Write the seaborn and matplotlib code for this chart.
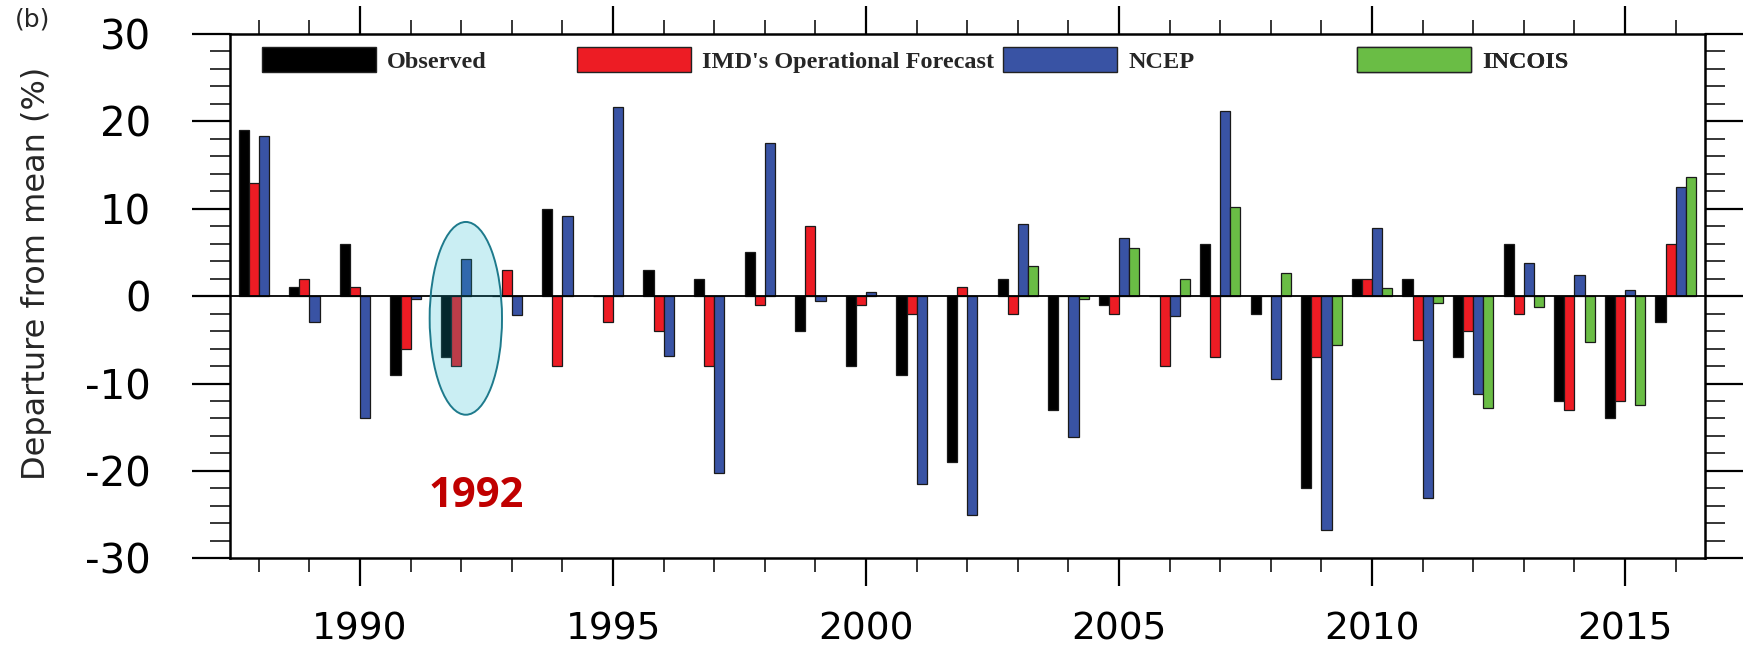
import numpy as np
import pandas as pd
import matplotlib
matplotlib.use("Agg")
import matplotlib.pyplot as plt
from matplotlib.patches import Ellipse, Patch
from matplotlib.ticker import MultipleLocator, FixedLocator
import seaborn as sns

# ---- data: departure of monsoon rainfall from the long-term mean (%) ----
years = list(range(1988, 2017))
observed = [19, 1, 6, -9, -7, 0, 10, 0, 3, 2, 5, -4, -8, -9, -19,
            2, -13, -1, 0, 6, -2, -22, 2, 2, -7, 6, -12, -14, -3]
imd_forecast = [13, 2, 1, -6, -8, 3, -8, -3, -4, -8, -1, 8, -1, -2, 1,
                -2, 0, -2, -8, -7, 0, -7, 2, -5, -4, -2, -13, -12, 6]
ncep = [18.3, -3, -14, -0.3, 4.2, -2.2, 9.2, 21.6, -6.9, -20.2, 17.5, -0.5, 0.5, -21.5, -25,
        8.3, -16.1, 6.7, -2.3, 21.2, -9.5, -26.8, 7.8, -23.1, -11.2, 3.8, 2.4, 0.7, 12.5]
incois = [np.nan] * 15 + [3.4, -0.3, 5.5, 2.0, 10.2, 2.7, -5.6, 0.9, -0.8, -12.8,
                          -1.2, -5.3, -12.5, 13.6]

series_names = ["Observed", "IMD's Operational Forecast", "NCEP", "INCOIS"]
series_colors = ["#000000", "#ED1C24", "#3953A4", "#6ABD45"]
major_years = [1990, 1995, 2000, 2005, 2010, 2015]
y_ticks = [-30, -20, -10, 0, 10, 20, 30]
highlight_year = 1992

# long-form table for seaborn
frames = []
for name, vals in zip(series_names, [observed, imd_forecast, ncep, incois]):
    frames.append(pd.DataFrame({"year": years, "value": vals, "source": name}))
df = pd.concat(frames, ignore_index=True).dropna()

sns.set_style("ticks")
plt.rcParams["font.family"] = ["DejaVu Sans"]

fig = plt.figure(figsize=(17.48, 6.45), dpi=100)
ax = fig.add_axes([0.1316, 0.1344, 0.8438, 0.8129])

sns.barplot(data=df, x="year", y="value", hue="source", hue_order=series_names,
            palette=dict(zip(series_names, series_colors)), native_scale=True,
            width=0.8, dodge=True, errorbar=None, saturation=1,
            edgecolor="#1a1a1a", linewidth=0.9, legend=False, ax=ax, zorder=3)

ax.axhline(0, color="black", lw=1.3, zorder=4)

# axes limits and ticks
ax.set_xlim(1987.43, 2016.58)
ax.set_ylim(-30, 30)
ax.xaxis.set_major_locator(FixedLocator(major_years))
ax.xaxis.set_minor_locator(FixedLocator(years))
ax.set_xticklabels([str(y) for y in major_years])
ax.yaxis.set_major_locator(FixedLocator(y_ticks))
ax.yaxis.set_minor_locator(MultipleLocator(2))
ax.set_yticklabels([str(v) for v in y_ticks])

ax.tick_params(axis="x", which="major", direction="out", length=20, width=1.6,
               top=True, bottom=True, labelsize=27, pad=18.5, colors="black")
ax.tick_params(axis="x", which="minor", direction="out", length=10, width=1.3,
               top=True, bottom=True)
ax.tick_params(axis="y", which="major", direction="out", length=27.5, width=1.6,
               left=True, right=True, labelsize=29, pad=29.5, colors="black")
ax.tick_params(axis="y", which="minor", direction="out", length=14.5, width=1.3,
               left=True, right=True)

for sp in ax.spines.values():
    sp.set_visible(True)
    sp.set_linewidth(1.8)
    sp.set_color("black")

ax.set_xlabel("")
ax.set_ylabel("Departure from mean (%)", fontsize=23, va="center")
ax.yaxis.set_label_coords(-0.1315, 0.544)

# legend: one entry per slot across the top of the panel
legend_x = [0.0217, 0.2353, 0.524, 0.764]
for name, color, lx in zip(series_names, series_colors, legend_x):
    handle = Patch(facecolor=color, edgecolor="#222222", linewidth=1.0)
    leg = ax.legend(handles=[handle], labels=[name], loc="center left",
                    bbox_to_anchor=(lx, 0.95), frameon=False,
                    borderaxespad=0, borderpad=0, handlelength=4.7,
                    handleheight=1.2, handletextpad=0.45,
                    prop={"family": "Liberation Serif", "weight": "bold", "size": 17.5})
    ax.add_artist(leg)

# highlight of the 1992 season
ax.add_patch(Ellipse((highlight_year + 0.09, -2.54), width=1.43, height=22.06,
                     facecolor=(22 / 255, 179 / 255, 205 / 255, 0.224),
                     edgecolor="#1E7A8C", lw=1.4, zorder=6))
ax.text(highlight_year + 0.29, -24.1, str(highlight_year), ha="center", va="baseline",
        fontsize=30, fontweight="bold", color="#C00000", family="Open Sans", zorder=7)

fig.text(33 / 1748, 1 - 19 / 645, "(b)", ha="center", va="center", fontsize=18)

fig.savefig("out.png", dpi=100)
